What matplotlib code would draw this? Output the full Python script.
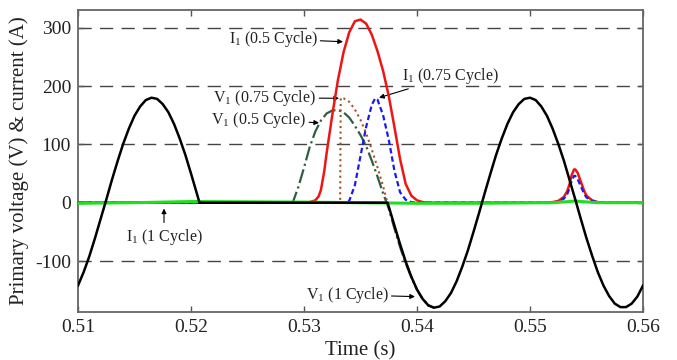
import matplotlib
matplotlib.use("Agg")
import matplotlib.pyplot as plt

plt.rcParams['font.family'] = ['Liberation Serif', 'DejaVu Serif']
plt.rcParams['mathtext.fontset'] = 'custom'
plt.rcParams['mathtext.rm'] = 'Liberation Serif'

# ---------------- data ----------------
# V1 (1 Cycle) - black
v1_1c_t = [0.5100, 0.5105, 0.5110, 0.5115, 0.5120, 0.5125, 0.5130, 0.5135, 0.5140, 0.5145,
           0.5150, 0.5155, 0.5160, 0.5165, 0.5170, 0.5175, 0.5180, 0.5185, 0.5190, 0.5195,
           0.5200, 0.5205, 0.52075, 0.5374,
           0.5380, 0.5385, 0.5390, 0.5395, 0.5400, 0.5405, 0.5410, 0.5415, 0.5420, 0.5425,
           0.5430, 0.5435, 0.5440, 0.5445, 0.5450, 0.5455, 0.5460, 0.5465, 0.5470, 0.5475,
           0.5480, 0.5485, 0.5490, 0.5495, 0.5500, 0.5505, 0.5510, 0.5515, 0.5520, 0.5525,
           0.5530, 0.5535, 0.5540, 0.5545, 0.5550, 0.5555, 0.5560, 0.5565, 0.5570, 0.5575,
           0.5580, 0.5585, 0.5590, 0.5595, 0.5600]
v1_1c_v = [-142, -119, -92, -61, -28, 5, 39, 71, 101, 127,
           149, 165, 176, 180, 178, 169, 155, 135, 110, 82,
           50, 17, 0, 0,
           -39, -71, -101, -127, -149, -165, -176, -180, -178, -169,
           -155, -135, -110, -82, -50, -17, 17, 50, 82, 110,
           135, 155, 169, 178, 180, 176, 165, 149, 127, 101,
           72, 39, 6, -28, -61, -91, -119, -142, -160, -173,
           -179, -179, -173, -161, -142]

# V1 (0.5 Cycle) - dark green dash-dot
v1_05c_t = [0.5100, 0.52075, 0.5290, 0.5295, 0.5300, 0.5305, 0.5310, 0.5315, 0.5320, 0.5325,
            0.5330, 0.5335, 0.5340, 0.5345, 0.5350, 0.5355, 0.5360, 0.5365, 0.5370, 0.5375,
            0.5380, 0.5385, 0.5390, 0.5395, 0.5400, 0.5405, 0.5410, 0.5415]
v1_05c_v = [0, 0, 0, 27, 60, 95, 122, 141, 153, 158,
            159, 155, 146, 132, 116, 97, 72, 45, 16, -10,
            -44, -76, -104, -128, -149, -165, -176, -180]

# V1 (0.75 Cycle) - brown dotted
v1_075c_t = [0.5100, 0.5332, 0.53325, 0.5335, 0.5340, 0.5345, 0.5350, 0.5355, 0.5360, 0.5365,
             0.5370, 0.5375, 0.5380, 0.5385, 0.5390, 0.5395, 0.5400, 0.5405, 0.5410, 0.5415]
v1_075c_v = [0, 0, 180, 179, 173, 160, 142, 119, 91, 61,
             28, -8, -42, -74, -103, -128, -149, -165, -176, -180]

# I1 (0.5 Cycle) - red
i1_05c_t = [0.5100, 0.5300, 0.5305, 0.5310, 0.5313, 0.5315, 0.5318, 0.5320, 0.5325, 0.5330,
            0.5335, 0.5340, 0.5345, 0.5350, 0.5355, 0.5360, 0.5365, 0.5370, 0.5375, 0.5380,
            0.5385, 0.5390, 0.5395, 0.5400, 0.5405, 0.5410,
            0.5515, 0.5520, 0.5525, 0.5530, 0.5533, 0.5535, 0.5537, 0.5539, 0.5540, 0.5542,
            0.5545, 0.5548, 0.5550, 0.5555, 0.5560, 0.5565, 0.5600]
i1_05c_v = [0, 0, 1, 4, 11, 22, 55, 85, 150, 210,
            258, 292, 311, 314, 307, 288, 260, 226, 183, 130,
            75, 32, 12, 4, 1, 0,
            0, 1, 3, 10, 20, 32, 48, 57, 57, 52,
            36, 20, 12, 4, 1, 0, 0]

# I1 (0.75 Cycle) - blue dashed
i1_075c_t = [0.5100, 0.5335, 0.5340, 0.5345, 0.5350, 0.5355, 0.5360, 0.5363, 0.5365, 0.5370,
             0.5375, 0.5380, 0.5385, 0.5390, 0.5395, 0.5400,
             0.5520, 0.5525, 0.5530, 0.5533, 0.5535, 0.5537, 0.5539, 0.5540, 0.5542,
             0.5545, 0.5548, 0.5550, 0.5555, 0.5560, 0.5565, 0.5600]
i1_075c_v = [0, 0, 3, 30, 80, 130, 168, 179, 177, 150,
             108, 55, 18, 5, 1, 0,
             0, 2, 7, 15, 25, 38, 46, 46, 41,
             28, 15, 9, 3, 1, 0, 0]

# I1 (1 Cycle) - green
i1_1c_t = [0.5100, 0.5150, 0.5200, 0.5205, 0.5300, 0.5400, 0.5450, 0.5520, 0.5535, 0.5540,
           0.5545, 0.5560, 0.5600]
i1_1c_v = [-1, 0, 2, 2, 1, -1, -1, 0, 2, 3,
           2, 0, 0]

x_ticks = [0.51, 0.52, 0.53, 0.54, 0.55, 0.56]
x_ticklabels = ["0.51", "0.52", "0.53", "0.54", "0.55", "0.56"]
y_ticks = [-100, 0, 100, 200, 300]
y_ticklabels = ["-100", "0", "100", "200", "300"]

# ---------------- figure ----------------
fig = plt.figure(figsize=(6.77, 3.6), dpi=100)
ax = fig.add_axes([78/677, 48/360, (643-78)/677, (312-10)/360])

for yv in [-100, 100, 200, 300]:
    ax.axhline(yv, color='#444444', lw=1.0, linestyle=(0, (9.5, 6)), zorder=1)

ax.plot(v1_05c_t, v1_05c_v, color='#2f5f40', lw=1.6, linestyle='-.', zorder=2)
ax.plot(v1_075c_t, v1_075c_v, color='#a0522d', lw=1.5, linestyle=':', zorder=3)
ax.plot(i1_05c_t, i1_05c_v, color='#ee1515', lw=1.8, zorder=4)
ax.plot(i1_075c_t, i1_075c_v, color='#1a1aee', lw=1.6, linestyle=(0, (2.4, 1.4)), zorder=5)
ax.plot(i1_1c_t, i1_1c_v, color='#22dd22', lw=2.2, zorder=6)
ax.plot(v1_1c_t, v1_1c_v, color='black', lw=1.8, zorder=7)

ax.set_xlim(0.51, 0.56)
ax.set_ylim(-187.4, 330.4)
ax.set_xticks(x_ticks)
ax.set_xticklabels(x_ticklabels)
ax.set_yticks(y_ticks)
ax.set_yticklabels(y_ticklabels)
ax.tick_params(axis='both', direction='in', labelsize=14, colors='#555555',
               labelcolor='#222222', length=4, width=1)
ax.tick_params(axis='x', top=True, pad=5)
ax.tick_params(axis='y', right=True, pad=5)
for s in ax.spines.values():
    s.set_color('#666666')
    s.set_linewidth(1.3)

ax.set_xlabel("Time (s)", fontsize=15, color='#222222', labelpad=4)
ax.set_ylabel("Primary voltage (V) & current (A)", fontsize=15, color='#222222', labelpad=4)

arrow = dict(arrowstyle='-|>', color='black', lw=0.8, mutation_scale=7, shrinkA=0, shrinkB=0)
tfs = 11.5
ax.annotate(r"I$_\mathregular{1}$ (0.5 Cycle)", xy=(0.53345, 276), xytext=(0.5312, 281),
            ha='right', va='center', fontsize=tfs, color='#222222', arrowprops=arrow)
ax.annotate(r"I$_\mathregular{1}$ (0.75 Cycle)", xy=(0.53664, 180), xytext=(0.53867, 200),
            ha='left', va='bottom', fontsize=tfs, color='#222222', arrowprops=arrow)
ax.annotate(r"V$_\mathregular{1}$ (0.75 Cycle)", xy=(0.5331, 179), xytext=(0.5311, 180),
            ha='right', va='center', fontsize=tfs, color='#222222', arrowprops=arrow)
ax.annotate(r"V$_\mathregular{1}$ (0.5 Cycle)", xy=(0.53133, 137), xytext=(0.5302, 142),
            ha='right', va='center', fontsize=tfs, color='#222222', arrowprops=arrow)
ax.annotate(r"V$_\mathregular{1}$ (1 Cycle)", xy=(0.53982, -161), xytext=(0.5375, -158),
            ha='right', va='center', fontsize=tfs, color='#222222', arrowprops=arrow)
ax.annotate("", xy=(0.51761, -10), xytext=(0.51761, -34), arrowprops=arrow)
ax.text(0.51761, -42, r"I$_\mathregular{1}$ (1 Cycle)", ha='center', va='top',
        fontsize=tfs, color='#222222')

fig.savefig("out.png", dpi=100)
